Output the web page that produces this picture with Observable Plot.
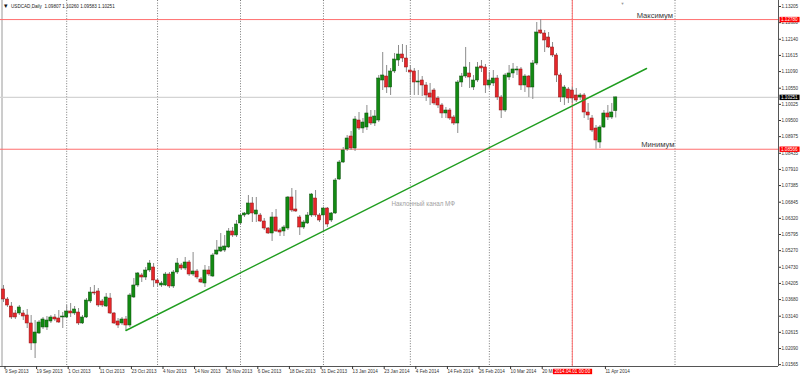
<!DOCTYPE html>
<html><head><meta charset="utf-8">
<script src="https://cdn.jsdelivr.net/npm/d3@7"></script>
<script src="https://cdn.jsdelivr.net/npm/@observablehq/plot@0.6"></script>
<style>
html,body{margin:0;padding:0;background:#fff;}
#chart{width:800px;height:376px;overflow:hidden;}
</style>
</head><body><div id="chart"></div>
<script>
// ---- data (daily USDCAD candles, bar 0 = 9 Sep 2013) ----
const openP = [1.04008,1.03683,1.03455,1.03228,1.03228,1.03228,1.03163,1.02903,1.02253,1.02578,
1.02773,1.02773,1.02968,1.03098,1.03065,1.03098,1.03098,1.03293,1.03228,1.03260,
1.02903,1.03098,1.03618,1.03910,1.03943,1.03618,1.03455,1.03715,1.03228,1.02968,
1.02903,1.03033,1.02838,1.03748,1.04138,1.04463,1.04398,1.04625,1.04723,1.04300,
1.04138,1.04138,1.04495,1.04105,1.04560,1.04788,1.04690,1.04885,1.04495,1.04593,
1.04333,1.04203,1.04625,1.04430,1.05145,1.05243,1.05275,1.05373,1.05893,1.05763,
1.06153,1.06413,1.06445,1.06803,1.06445,1.06413,1.06218,1.05990,1.05828,1.06348,
1.05925,1.05893,1.05990,1.06998,1.06608,1.06348,1.06023,1.06153,1.06413,1.06965,
1.06413,1.06413,1.06640,1.06250,1.06478,1.07583,1.08135,1.08558,1.08980,1.08590,
1.09500,1.09240,1.09273,1.09598,1.09403,1.09500,1.10800,1.10930,1.10573,1.11093,
1.11450,1.11645,1.11515,1.11125,1.11093,1.10735,1.10800,1.10638,1.10378,1.10475,
1.10215,1.09988,1.09728,1.09825,1.09598,1.09403,1.10735,1.10930,1.11028,1.10573,
1.10800,1.11255,1.11223,1.10638,1.10703,1.10865,1.10248,1.09825,1.10898,1.11028,
1.11125,1.11158,1.10638,1.10930,1.10573,1.11353,1.12425,1.12328,1.12198,1.11873,
1.11613,1.10963,1.10248,1.10508,1.10475,1.10313,1.10248,1.10313,1.09760,1.09565,
1.09240,1.08785,1.09273,1.09728,1.09598,1.09807];
const highP = [1.04138,1.03748,1.03585,1.03325,1.03488,1.03325,1.03358,1.03163,1.03000,1.03000,
1.03098,1.03130,1.03163,1.03195,1.03325,1.03260,1.03488,1.03553,1.03455,1.03390,
1.03163,1.03715,1.04073,1.04138,1.04040,1.03683,1.03878,1.03878,1.03260,1.03065,
1.03098,1.03130,1.03878,1.04365,1.04560,1.04528,1.04723,1.04950,1.04853,1.04365,
1.04268,1.04560,1.04560,1.04625,1.05015,1.04853,1.05048,1.04950,1.05210,1.04658,
1.04398,1.04788,1.04755,1.05178,1.05600,1.05828,1.05763,1.05990,1.06023,1.06250,
1.06478,1.06510,1.07063,1.06998,1.06998,1.06478,1.06315,1.06023,1.06510,1.06608,
1.05990,1.06088,1.07030,1.07290,1.07225,1.06413,1.06250,1.06510,1.07128,1.07225,
1.06478,1.06673,1.06673,1.06510,1.07615,1.08200,1.08623,1.09013,1.09143,1.09630,
1.09760,1.09565,1.09988,1.09825,1.09825,1.10963,1.11710,1.11288,1.11190,1.11678,
1.11938,1.11970,1.11938,1.11288,1.11190,1.11125,1.10930,1.10735,1.10703,1.10540,
1.10280,1.10053,1.09923,1.09890,1.09663,1.10800,1.11028,1.11873,1.11385,1.10963,
1.11385,1.11450,1.11320,1.11060,1.11125,1.10963,1.10313,1.11028,1.11288,1.11353,
1.11255,1.11223,1.10995,1.10963,1.11450,1.12685,1.12780,1.12425,1.12360,1.12035,
1.11678,1.11028,1.10638,1.10573,1.10573,1.10540,1.10378,1.10378,1.10053,1.09663,
1.09338,1.09338,1.09825,1.09988,1.10053,1.10260];
const lowP = [1.03585,1.03423,1.03033,1.03033,1.03163,1.03000,1.02740,1.02025,1.01765,1.02545,
1.02708,1.02675,1.02903,1.02968,1.02903,1.02740,1.03065,1.03098,1.03163,1.02838,
1.02870,1.03065,1.03553,1.03813,1.03423,1.03423,1.03423,1.03195,1.02870,1.02740,
1.02838,1.02675,1.02773,1.03715,1.04073,1.04235,1.04300,1.04560,1.04073,1.04073,
1.04073,1.04105,1.04040,1.04040,1.04495,1.04625,1.04625,1.04430,1.04430,1.04333,
1.04203,1.04073,1.04430,1.04398,1.05113,1.05210,1.05210,1.05340,1.05698,1.05698,
1.06088,1.06348,1.06413,1.06185,1.06185,1.06185,1.05925,1.05795,1.05568,1.05860,
1.05730,1.05730,1.05925,1.06510,1.06510,1.05763,1.05958,1.06120,1.06348,1.06348,
1.06185,1.05893,1.06023,1.06185,1.06445,1.07550,1.08103,1.08493,1.08525,1.08493,
1.09175,1.09078,1.09175,1.09338,1.09305,1.09435,1.10475,1.10378,1.10313,1.11028,
1.11255,1.11385,1.11060,1.10313,1.10313,1.10313,1.10280,1.10118,1.09988,1.09988,
1.09890,1.09565,1.09565,1.09500,1.09338,1.09078,1.10573,1.10865,1.10540,1.10475,
1.10735,1.11060,1.10378,1.10540,1.10605,1.10150,1.09565,1.09760,1.10800,1.10865,
1.10963,1.10475,1.10410,1.10248,1.10183,1.11288,1.12295,1.11710,1.11840,1.11548,
1.10735,1.10085,1.09988,1.10053,1.10053,1.10085,1.10150,1.09565,1.09500,1.09110,
1.08566,1.08590,1.09240,1.09500,1.09533,1.09583];
const closeP = [1.03683,1.03488,1.03098,1.03098,1.03423,1.03130,1.02903,1.02253,1.02610,1.02935,
1.03033,1.03000,1.03098,1.03033,1.02935,1.03130,1.03293,1.03228,1.03358,1.02903,
1.03098,1.03650,1.03910,1.03878,1.03488,1.03488,1.03748,1.03228,1.02903,1.02838,
1.03033,1.02838,1.03813,1.04138,1.04528,1.04398,1.04625,1.04853,1.04300,1.04203,
1.04203,1.04495,1.04105,1.04560,1.04853,1.04690,1.04885,1.04495,1.04593,1.04398,
1.04235,1.04625,1.04495,1.05113,1.05275,1.05373,1.05405,1.05893,1.05763,1.06120,
1.06413,1.06478,1.06803,1.06478,1.06575,1.06218,1.05990,1.05828,1.06348,1.05893,
1.05860,1.06023,1.06998,1.06575,1.06543,1.06023,1.06185,1.06413,1.07095,1.06413,
1.06250,1.06640,1.06120,1.06478,1.07550,1.08135,1.08525,1.08915,1.08590,1.09533,
1.09240,1.09435,1.09728,1.09403,1.09630,1.10865,1.10963,1.10573,1.11093,1.11483,
1.11645,1.11515,1.11223,1.11060,1.10735,1.10768,1.10638,1.10313,1.10248,1.10053,
1.09988,1.09728,1.09825,1.09565,1.09403,1.10735,1.10930,1.11223,1.10898,1.10800,
1.11223,1.11190,1.10638,1.10800,1.10865,1.10248,1.09825,1.10963,1.11028,1.11158,
1.11158,1.10638,1.10930,1.10573,1.11353,1.12360,1.12328,1.12100,1.11873,1.11613,
1.10963,1.10248,1.10573,1.10215,1.10215,1.10150,1.10313,1.09760,1.09663,1.09175,
1.08850,1.09273,1.09728,1.09598,1.09760,1.10251];

// x-axis labels every 8 bars (bar 144 = 1 Apr 2014 is shown as the red cursor tag)
const dateLabels = ["9 Sep 2013","19 Sep 2013","1 Oct 2013","11 Oct 2013","23 Oct 2013","4 Nov 2013",
"14 Nov 2013","26 Nov 2013","6 Dec 2013","18 Dec 2013","31 Dec 2013","13 Jan 2014","23 Jan 2014",
"4 Feb 2014","14 Feb 2014","26 Feb 2014","10 Mar 2014","20 Mar 2014","1 Apr 2014","11 Apr 2014"];
const labelStep = 8;
const priceTicks = [1.13205,1.12680,1.12140,1.11615,1.11090,1.10550,1.10025,1.09500,1.08975,1.08435,
1.07910,1.07385,1.06845,1.06320,1.05795,1.05270,1.04730,1.04205,1.03680,1.03140,1.02615,1.02090,1.01565];
const gridBars = [16, 39, 60, 81, 103, 123, 144, 170];
const maxLevel = 1.12780, minLevel = 1.08566, lastPrice = 1.10251;
const cursorBar = 144, cursorLabel = "2014.04.01 00:00";
const trendBars = [31, 162.8], trendPrices = [1.02675, 1.1119];
const channelLabel = "Наклонный канал МФ", channelBar = 98.2, channelPrice = 1.0680;
const maxText = "Максимум", minText = "Минимум";
const headerText = "USDCAD,Daily  1.09807 1.10260 1.09583 1.10251";
const shiftMarkerBar = 156.7;

// ---- build ----
const bars = closeP.map((c, i) => ({i, open: openP[i], high: highP[i], low: lowP[i], close: c}));
const tickBars = dateLabels.map((_, k) => k * labelStep).filter(b => b !== cursorBar);
const trend = trendBars.map((b, k) => ({b, p: trendPrices[k]}));
const xDomain = [-0.76, 196.2], yDomain = [1.01505, 1.1340];
const UP = "#128a12", UPS = "#0b4f0b", DN = "#e5262a", DNS = "#8b1313";

const chart = Plot.plot({
  width: 800, height: 376,
  marginLeft: 0, marginRight: 22, marginTop: 0, marginBottom: 10,
  style: {fontFamily: "'Liberation Sans', Arial, sans-serif", fontSize: "4.6px", background: "#fff", overflow: "visible"},
  x: {type: "linear", domain: xDomain, axis: null},
  y: {type: "linear", domain: yDomain, axis: null},
  marks: [
    Plot.ruleX([xDomain[0]], {stroke: "#9a9a9a", dx: 1.5}),
    Plot.ruleX(gridBars, {stroke: "#7a7a7a", strokeDasharray: "1,1.6", strokeWidth: 1}),
    Plot.ruleY([lastPrice], {stroke: "#d4d4d4", strokeWidth: 1.2}),
    Plot.ruleY([maxLevel, minLevel], {stroke: "#ff6f6f", strokeWidth: 1}),
    Plot.ruleX([cursorBar], {stroke: "#ff6f6f", strokeWidth: 1}),
    Plot.ruleX(bars, {x: "i", y1: "low", y2: "high", stroke: "#8c8c8c", strokeWidth: 1}),
    Plot.rect(bars, {
      x1: d => d.i - 0.4, x2: d => d.i + 0.4,
      y1: "open", y2: "close",
      fill: d => d.close >= d.open ? UP : DN,
      stroke: d => d.close >= d.open ? UPS : DNS,
      strokeWidth: 0.5
    }),
    Plot.line(trend, {x: "b", y: "p", stroke: "#1f9d1f", strokeWidth: 1.4}),
    Plot.text([channelLabel], {x: channelBar, y: channelPrice, text: d => d, textAnchor: "start", fontSize: 6.3, fill: "#a2a2a2"}),
    Plot.text([maxText], {x: gridBars[7], y: maxLevel, text: d => d, textAnchor: "end", dx: -2, dy: -4.5, fontSize: 7.6, fill: "#3a3a3a"}),
    Plot.text([minText], {x: gridBars[7], y: minLevel, text: d => d, textAnchor: "end", dx: -0.5, dy: -4.5, fontSize: 7.6, fill: "#3a3a3a"}),
    // axes lines
    Plot.ruleX([xDomain[1]], {stroke: "#555"}),
    Plot.ruleY([yDomain[0]], {stroke: "#555"}),
    Plot.axisY(priceTicks, {anchor: "right", tickSize: 2, tickPadding: 1, tickFormat: d => d.toFixed(5), fontSize: 4.6, color: "#333"}),
    Plot.axisX(tickBars, {anchor: "bottom", tickSize: 3, tickPadding: 0, textAnchor: "start", dx: 1.5,
      tickFormat: b => dateLabels[b / labelStep], fontSize: 4.6, color: "#333"}),
    // tags (background boxes added after render)
    Plot.text([maxLevel, minLevel], {y: d => d, frameAnchor: "right", dx: 2.5, textAnchor: "start", text: d => d.toFixed(5), fill: "#fff", fontSize: 4.6, ariaDescription: "tag-red"}),
    Plot.text([lastPrice], {y: d => d, frameAnchor: "right", dx: 2.5, textAnchor: "start", text: d => d.toFixed(5), fill: "#fff", fontSize: 4.6, ariaDescription: "tag-black"}),
    Plot.text([cursorBar], {x: d => d, frameAnchor: "bottom", dy: 5, lineAnchor: "middle", text: () => cursorLabel, fill: "#fff", fontSize: 4.6, ariaDescription: "tag-red"}),
    // header
    Plot.text(["▾"], {frameAnchor: "top-left", dx: 5.5, dy: 5.5, lineAnchor: "middle", textAnchor: "middle", text: d => d, fontSize: 7, fill: "#111"}),
    Plot.text([headerText], {frameAnchor: "top-left", dx: 10.5, dy: 6, lineAnchor: "middle", textAnchor: "start", text: d => d, fontSize: 4.6, fill: "#222"}),
    Plot.text(["▼"], {x: shiftMarkerBar, frameAnchor: "top", dy: 3, lineAnchor: "middle", text: d => d, fontSize: 4, fill: "#9a9a9a"})
  ]
});
document.getElementById("chart").append(chart);

function addTagBoxes(svg, label, fill) {
  svg.querySelectorAll(`g[aria-description="${label}"] text`).forEach(t => {
    const b = t.getBBox();
    const r = document.createElementNS("http://www.w3.org/2000/svg", "rect");
    r.setAttribute("x", b.x - 1.5);
    r.setAttribute("y", b.y - 0.2);
    r.setAttribute("width", b.width + 3);
    r.setAttribute("height", b.height + 0.4);
    r.setAttribute("fill", fill);
    r.setAttribute("stroke", "none");
    const tr = t.getAttribute("transform");
    if (tr) r.setAttribute("transform", tr);
    t.parentNode.insertBefore(r, t);
  });
}
addTagBoxes(chart, "tag-red", "#ff0000");
addTagBoxes(chart, "tag-black", "#000000");
</script>
</body></html>
